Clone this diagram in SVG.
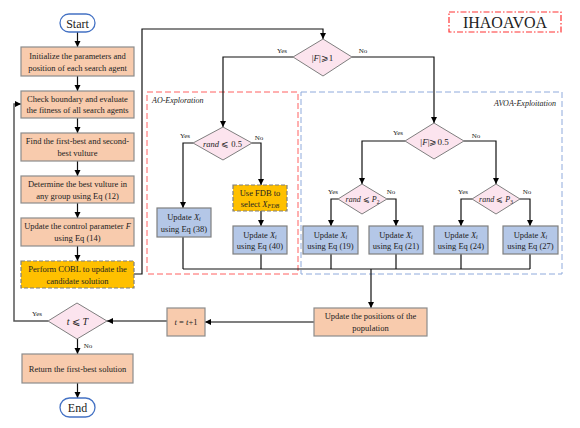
<svg xmlns="http://www.w3.org/2000/svg" width="580" height="428" viewBox="0 0 580 428">
<defs>
<marker id="arr" markerUnits="userSpaceOnUse" markerWidth="7" markerHeight="7" refX="6" refY="3" orient="auto">
<path d="M0,0 L6,3 L0,6 z" fill="#000"/>
</marker>
<style>
text{font-family:"Liberation Serif","Times New Roman",serif;fill:#222;}
.t{font-size:8.5px;text-anchor:middle;}
.lbl{font-size:7px;text-anchor:middle;}
.org{fill:#F8CBAD;stroke:#8c8c8c;stroke-width:1.2;}
.blu{fill:#B4C7E7;stroke:#7f7f7f;stroke-width:1.2;}
.yel{fill:#FFC000;stroke:#7f7f7f;stroke-width:1.2;stroke-dasharray:4,2;}
.dia{fill:#FCE4EE;stroke:#7f7f7f;stroke-width:1;}
.term{fill:#fff;stroke:#4472C4;stroke-width:1.3;}
.ln{fill:none;stroke:#111;stroke-width:1.2;}
.ln2{fill:none;stroke:#555;stroke-width:1.5;}
.ar{marker-end:url(#arr);}
i,.it{font-style:italic;}
</style>
</defs>

<g id="title">
<rect x="449" y="12" width="112" height="20" fill="none" stroke="#FF3333" stroke-width="1.2" stroke-dasharray="6,2,1.5,2"/>
<text x="505" y="28" style="font-size:16px;text-anchor:middle;">IHAOAVOA</text>
</g>

<g id="regions">
<rect x="147" y="92" width="151" height="182" fill="none" stroke="#FF6060" stroke-width="1" stroke-dasharray="6,3"/>
<text x="152" y="103" class="it" style="font-size:8px;">AO-Exploration</text>
<rect x="301" y="92" width="261" height="182" fill="none" stroke="#8FAADC" stroke-width="1" stroke-dasharray="6,3"/>
<text x="556" y="106" class="it" style="font-size:8px;text-anchor:end;">AVOA-Exploitation</text>
</g>

<g id="connectors">
<line class="ln ar" x1="77.5" y1="32" x2="77.5" y2="47"/>
<line class="ln ar" x1="77.5" y1="76" x2="77.5" y2="91"/>
<line class="ln ar" x1="77.5" y1="118" x2="77.5" y2="133"/>
<line class="ln ar" x1="77.5" y1="161" x2="77.5" y2="176"/>
<line class="ln ar" x1="77.5" y1="203" x2="77.5" y2="218"/>
<line class="ln ar" x1="77.5" y1="246" x2="77.5" y2="261"/>
<polyline class="ln ar" points="134,274 142,274 142,29 323,29 323,39"/>
<polyline class="ln2 ar" points="48,321 14,321 14,104 21,104"/>
<line class="ln ar" x1="77.5" y1="339" x2="77.5" y2="354"/>
<line class="ln ar" x1="77.5" y1="383" x2="77.5" y2="398"/>
<line class="ln2 ar" x1="167" y1="321" x2="107" y2="321"/>
<line class="ln2 ar" x1="314" y1="322" x2="205" y2="322"/>
<line class="ln ar" x1="371" y1="269" x2="371" y2="308"/>
<polyline class="ln ar" points="293,57 223,57 223,127"/>
<polyline class="ln ar" points="352,57 434,57 434,123"/>
<polyline class="ln ar" points="193,143 183,143 183,208"/>
<polyline class="ln ar" points="252,143 261,143 261,185"/>
<line class="ln ar" x1="261" y1="211" x2="261" y2="226"/>
<polyline class="ln ar" points="405,141 362,141 362,184"/>
<polyline class="ln ar" points="464,141 496,141 496,184"/>
<polyline class="ln ar" points="338,199 331,199 331,226"/>
<polyline class="ln ar" points="387,199 396,199 396,226"/>
<polyline class="ln ar" points="472,199 461,199 461,226"/>
<polyline class="ln ar" points="520,199 530,199 530,226"/>
<line class="ln" x1="183" y1="237" x2="183" y2="269"/>
<line class="ln" x1="261" y1="254" x2="261" y2="269"/>
<line class="ln" x1="331" y1="254" x2="331" y2="269"/>
<line class="ln" x1="396" y1="254" x2="396" y2="269"/>
<line class="ln" x1="461" y1="254" x2="461" y2="269"/>
<line class="ln" x1="530" y1="254" x2="530" y2="269"/>
<line class="ln" x1="183" y1="269" x2="530" y2="269"/>
<text class="lbl" x="37" y="316">Yes</text>
<text class="lbl" x="88" y="348">No</text>
<text class="lbl" x="282" y="53">Yes</text>
<text class="lbl" x="363" y="53">No</text>
<text class="lbl" x="185" y="138">Yes</text>
<text class="lbl" x="259" y="140">No</text>
<text class="lbl" x="398" y="135">Yes</text>
<text class="lbl" x="476" y="138">No</text>
<text class="lbl" x="333" y="194">Yes</text>
<text class="lbl" x="391" y="194">No</text>
<text class="lbl" x="463" y="194">Yes</text>
<text class="lbl" x="527" y="194">No</text>
</g>

<g id="start">
<rect class="term" x="60" y="14" width="35" height="18" rx="9"/>
<text x="77.5" y="27.5" style="font-size:12px;text-anchor:middle;">Start</text>
</g>
<g id="init">
<rect class="org" x="21" y="47" width="113" height="29"/>
<text class="t" x="77.5" y="58.5">Initialize the parameters and</text>
<text class="t" x="77.5" y="70.5">position of each search agent</text>
</g>
<g id="check">
<rect class="org" x="21" y="91" width="113" height="27"/>
<text class="t" x="77.5" y="101.5">Check boundary and evaluate</text>
<text class="t" x="77.5" y="113">the fitness of all search agents</text>
</g>
<g id="find">
<rect class="org" x="21" y="133" width="113" height="28"/>
<text class="t" x="77.5" y="144">Find the first-best and second-</text>
<text class="t" x="77.5" y="156">best vulture</text>
</g>
<g id="determine">
<rect class="org" x="21" y="176" width="113" height="27"/>
<text class="t" x="77.5" y="187">Determine the best vulture in</text>
<text class="t" x="77.5" y="198.5">any group using Eq (12)</text>
</g>
<g id="updateF">
<rect class="org" x="21" y="218" width="113" height="28"/>
<text class="t" x="77.5" y="229">Update the control parameter <tspan class="it">F</tspan></text>
<text class="t" x="77.5" y="241">using Eq (14)</text>
</g>
<g id="cobl">
<rect class="yel" x="21" y="261" width="113" height="27"/>
<text class="t" x="77.5" y="272">Perform COBL to update the</text>
<text class="t" x="77.5" y="283.5">candidate solution</text>
</g>
<g id="tcheck">
<polygon class="dia" points="77,303 107,321 77,339 48,321"/>
<text x="77.5" y="324.5" style="font-size:10px;text-anchor:middle;"><tspan class="it">t</tspan> ⩽ <tspan class="it">T</tspan></text>
</g>
<g id="return">
<rect class="org" x="22" y="354" width="111" height="29"/>
<text class="t" x="77.5" y="371.5">Return the first-best solution</text>
</g>
<g id="end">
<rect class="term" x="60" y="398" width="35" height="19" rx="9.5"/>
<text x="77.5" y="412" style="font-size:12px;text-anchor:middle;">End</text>
</g>
<g id="tinc">
<rect class="org" x="167" y="308" width="38" height="28"/>
<text class="t" x="186" y="325"><tspan class="it">t</tspan> = <tspan class="it">t</tspan>+1</text>
</g>
<g id="updatepos">
<rect class="org" x="314" y="308" width="113" height="28"/>
<text class="t" x="370.5" y="319">Update the positions of the</text>
<text class="t" x="370.5" y="331">population</text>
</g>
<g id="F1">
<polygon class="dia" points="323,39 352,57 323,76 293,57"/>
<text x="322.5" y="60.5" style="font-size:9px;text-anchor:middle;">|<tspan class="it">F</tspan>|⩾1</text>
</g>
<g id="rand05">
<polygon class="dia" points="223,127 252,143 223,160 193,143"/>
<text x="222.5" y="146.5" style="font-size:8.5px;text-anchor:middle;"><tspan class="it">rand</tspan> ⩽ 0.5</text>
</g>
<g id="eq38">
<rect class="blu" x="157" y="208" width="54" height="29"/>
<text class="t" x="184" y="219.5">Update <tspan class="it">X</tspan><tspan class="it" style="font-size:6px;" dy="1.5">i</tspan></text>
<text class="t" x="184" y="231.5">using Eq (38)</text>
</g>
<g id="fdb">
<rect class="yel" x="233" y="185" width="54" height="26"/>
<text class="t" x="260" y="195.5">Use FDB to</text>
<text class="t" x="260" y="206.5">select <tspan class="it">X</tspan><tspan class="it" style="font-size:6px;" dy="1">FDB</tspan></text>
</g>
<g id="eq40">
<rect class="blu" x="233" y="226" width="54" height="28"/>
<text class="t" x="260" y="237.5">Update <tspan class="it">X</tspan><tspan class="it" style="font-size:6px;" dy="1.5">i</tspan></text>
<text class="t" x="260" y="249">using Eq (40)</text>
</g>
<g id="F05">
<polygon class="dia" points="434,123 464,141 434,159 405,141"/>
<text x="434.5" y="144.5" style="font-size:9px;text-anchor:middle;">|<tspan class="it">F</tspan>|⩾0.5</text>
</g>
<g id="randP2">
<polygon class="dia" points="362,184 387,199 362,214 338,199"/>
<text x="362.5" y="202" style="font-size:8px;text-anchor:middle;"><tspan class="it">rand</tspan> ⩽ <tspan class="it">P</tspan><tspan style="font-size:5.5px;" dy="1.5">2</tspan></text>
</g>
<g id="randP3">
<polygon class="dia" points="496,184 520,199 496,214 472,199"/>
<text x="496" y="202" style="font-size:8px;text-anchor:middle;"><tspan class="it">rand</tspan> ⩽ <tspan class="it">P</tspan><tspan style="font-size:5.5px;" dy="1.5">3</tspan></text>
</g>
<g id="eq19">
<rect class="blu" x="303" y="226" width="55" height="28"/>
<text class="t" x="330.5" y="237.5">Update <tspan class="it">X</tspan><tspan class="it" style="font-size:6px;" dy="1.5">i</tspan></text>
<text class="t" x="330.5" y="249">using Eq (19)</text>
</g>
<g id="eq21">
<rect class="blu" x="369" y="226" width="54" height="28"/>
<text class="t" x="396" y="237.5">Update <tspan class="it">X</tspan><tspan class="it" style="font-size:6px;" dy="1.5">i</tspan></text>
<text class="t" x="396" y="249">using Eq (21)</text>
</g>
<g id="eq24">
<rect class="blu" x="434" y="226" width="54" height="28"/>
<text class="t" x="461" y="237.5">Update <tspan class="it">X</tspan><tspan class="it" style="font-size:6px;" dy="1.5">i</tspan></text>
<text class="t" x="461" y="249">using Eq (24)</text>
</g>
<g id="eq27">
<rect class="blu" x="503" y="226" width="55" height="28"/>
<text class="t" x="530.5" y="237.5">Update <tspan class="it">X</tspan><tspan class="it" style="font-size:6px;" dy="1.5">i</tspan></text>
<text class="t" x="530.5" y="249">using Eq (27)</text>
</g>
</svg>
